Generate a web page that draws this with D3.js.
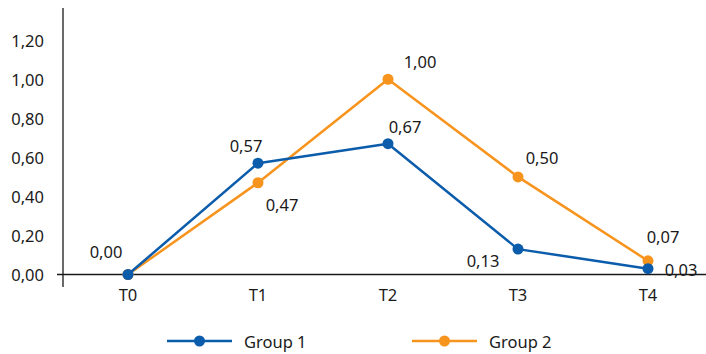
<!DOCTYPE html>
<html>
<head>
<meta charset="utf-8">
<script src="https://cdn.jsdelivr.net/npm/d3@7"></script>
<style>
  html, body { margin: 0; padding: 0; background: #fff; }
  svg { display: block; }
  text { font-family: "Noto Sans", "Open Sans", sans-serif; fill: #1a1a1a; }
</style>
</head>
<body>
<svg id="chart" width="706" height="354"></svg>
<script>
// Time points and series
const categories = ["T0", "T1", "T2", "T3", "T4"];
const group1 = [0.00, 0.57, 0.67, 0.13, 0.03];
const group2 = [0.00, 0.47, 1.00, 0.50, 0.07];
const seriesNames = ["Group 1", "Group 2"];
const yTicks = [0.00, 0.20, 0.40, 0.60, 0.80, 1.00, 1.20];

// Which points carry a value label (T0 is labelled once for both series)
const showLabel = [
  [true, true, true, true, true],
  [false, true, true, true, true]
];
// Label offsets from each point, in pixels [dx, dy]
const labelOffsets = [
  [[-22, -23], [-12, -18], [17, -17], [-35, 11], [33, 1]],
  [[0, 0], [24, 22], [32, -18], [24, -19], [15, -24]]
];

const colors = ["#0b5cab", "#f7941d"];
const fmt = v => d3.format(".2f")(v).replace(".", ",");

const svg = d3.select("#chart");
const plotLeft = 63, plotRight = 713, plotTop = 8, plotBottom = 274.5;

const x = d3.scaleBand().domain(categories).range([plotLeft, plotRight]);
const y = d3.scaleLinear().domain([0, 1.365]).range([plotBottom, plotTop]);
const cx = c => x(c) + x.bandwidth() / 2;

// Y axis: vertical rule with value labels
svg.append("line")
  .attr("x1", plotLeft).attr("x2", plotLeft)
  .attr("y1", plotTop).attr("y2", 287)
  .attr("stroke", "#1a1a1a").attr("stroke-width", 1.3);
svg.append("g").selectAll("text").data(yTicks).join("text")
  .attr("x", 44).attr("y", d => y(d))
  .attr("text-anchor", "end").attr("dominant-baseline", "central")
  .attr("font-size", 16.5)
  .text(fmt);

// X axis
const xAxis = d3.axisBottom(x).tickSize(0).tickPadding(15);
const gx = svg.append("g").attr("transform", `translate(0,${plotBottom})`).call(xAxis);
gx.select(".domain").remove();
gx.selectAll("text").attr("font-size", 16.5).attr("font-family", "Noto Sans, Open Sans, sans-serif").attr("fill", "#1a1a1a");
svg.append("line")
  .attr("x1", 57).attr("x2", 706)
  .attr("y1", plotBottom).attr("y2", plotBottom)
  .attr("stroke", "#1a1a1a").attr("stroke-width", 1.3);

// Lines, markers and value labels
const series = [group1, group2];
const line = d3.line().x((d, i) => cx(categories[i])).y(d => y(d));

// Draw Group 2 first so Group 1 sits on top where they overlap at T0
[1, 0].forEach(s => {
  const vals = series[s];
  svg.append("path").datum(vals)
    .attr("d", line).attr("fill", "none")
    .attr("stroke", colors[s]).attr("stroke-width", 2.5)
    .attr("stroke-linejoin", "round");
  svg.append("g").selectAll("circle").data(vals).join("circle")
    .attr("cx", (d, i) => cx(categories[i])).attr("cy", d => y(d))
    .attr("r", 5.5).attr("fill", colors[s]);
});
[0, 1].forEach(s => {
  const pts = series[s]
    .map((v, i) => ({ v, i }))
    .filter(p => showLabel[s][p.i]);
  svg.append("g").selectAll("text").data(pts).join("text")
    .attr("x", p => cx(categories[p.i]) + labelOffsets[s][p.i][0])
    .attr("y", p => y(p.v) + labelOffsets[s][p.i][1])
    .attr("text-anchor", "middle").attr("dominant-baseline", "central")
    .attr("font-size", 16.5)
    .text(p => fmt(p.v));
});

// Legend
const legendX = [167, 412];
const lg = svg.append("g").selectAll("g").data(seriesNames).join("g")
  .attr("transform", (d, i) => `translate(${legendX[i]},341)`);
lg.append("line").attr("x1", 0).attr("x2", 65).attr("y1", 0).attr("y2", 0)
  .attr("stroke", (d, i) => colors[i]).attr("stroke-width", 2.5);
lg.append("circle").attr("cx", 32.5).attr("cy", 0).attr("r", 5.5)
  .attr("fill", (d, i) => colors[i]);
lg.append("text").attr("x", 77).attr("y", 0)
  .attr("dominant-baseline", "central").attr("font-size", 16.5)
  .text(d => d);
</script>
</body>
</html>
